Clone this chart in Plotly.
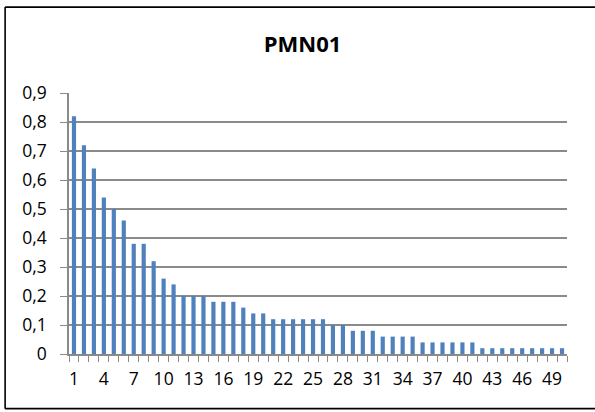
import plotly.graph_objects as go

# PMN01 series: one value per lag 1..50
categories = list(range(1, 51))
values = [
    0.82, 0.72, 0.64, 0.54, 0.50, 0.46, 0.38, 0.38, 0.32, 0.26,
    0.24, 0.20, 0.20, 0.20, 0.18, 0.18, 0.18, 0.16, 0.14, 0.14,
    0.12, 0.12, 0.12, 0.12, 0.12, 0.12, 0.10, 0.10, 0.08, 0.08,
    0.08, 0.06, 0.06, 0.06, 0.06, 0.04, 0.04, 0.04, 0.04, 0.04,
    0.04, 0.02, 0.02, 0.02, 0.02, 0.02, 0.02, 0.02, 0.02, 0.02,
]
x_label_vals = list(range(1, 51, 3))
y_tick_vals = [0, 0.1, 0.2, 0.3, 0.4, 0.5, 0.6, 0.7, 0.8, 0.9]
y_tick_text = ["0", "0,1", "0,2", "0,3", "0,4", "0,5", "0,6", "0,7", "0,8", "0,9"]
title_text = "PMN01"

W, H = 595, 412
L, R, T, B = 69.3, 28.3, 93.0, 57.7
pw, ph = W - L - R, H - T - B

def px_x(px):
    return (px - L) / pw

def px_y(py):
    return (H - B - py) / ph

grid = "#8a8a8a"
font_family = "Open Sans, Liberation Sans, sans-serif"

fig = go.Figure(
    go.Bar(
        x=categories,
        y=values,
        marker=dict(color="#4f81bd", line=dict(width=0)),
        width=0.42,
    )
)

fig.update_layout(
    width=W,
    height=H,
    margin=dict(l=L, r=R, t=T, b=B, pad=0),
    paper_bgcolor="white",
    plot_bgcolor="white",
    showlegend=False,
    font=dict(family=font_family, size=17.5, color="#000000"),
    title=dict(
        text="<b>" + title_text + "</b>",
        x=302.5 / W,
        xanchor="center",
        y=1 - 44.7 / H,
        yanchor="middle",
        font=dict(family=font_family, size=22, color="#000000"),
    ),
    xaxis=dict(
        range=[0.5, 50.5],
        tickmode="array",
        tickvals=x_label_vals,
        ticktext=[str(v) for v in x_label_vals],
        ticks="",
        showgrid=False,
        zeroline=False,
        showline=True,
        linecolor=grid,
        linewidth=1.5,
        ticklabelstandoff=8,
        minor=dict(
            tickmode="linear",
            tick0=0.5,
            dtick=1,
            ticks="outside",
            ticklen=6,
            tickwidth=1.3,
            tickcolor=grid,
            showgrid=False,
        ),
        fixedrange=True,
    ),
    yaxis=dict(
        range=[0, 0.9],
        tickmode="array",
        tickvals=y_tick_vals,
        ticktext=y_tick_text,
        ticks="outside",
        ticklen=7,
        tickwidth=1.3,
        tickcolor=grid,
        showgrid=True,
        gridcolor=grid,
        gridwidth=1.5,
        zeroline=False,
        showline=True,
        linecolor=grid,
        linewidth=1.5,
        ticklabelstandoff=10,
        fixedrange=True,
    ),
    bargap=0.58,
)

# Chart-area frame: left, top and bottom edges (the right side runs past the page)
frame = dict(color="#000000", width=1.6)
x_left, x_far = px_x(5.5), px_x(700)
y_top, y_bottom = px_y(7), px_y(409)
for x0, y0, x1, y1 in [
    (x_left, y_bottom, x_left, y_top),
    (x_left, y_top, x_far, y_top),
    (x_left, y_bottom, x_far, y_bottom),
]:
    fig.add_shape(
        type="line", xref="paper", yref="paper",
        x0=x0, y0=y0, x1=x1, y1=y1, line=frame, layer="below",
    )

fig.write_html("out.html", config={"displayModeBar": False})
